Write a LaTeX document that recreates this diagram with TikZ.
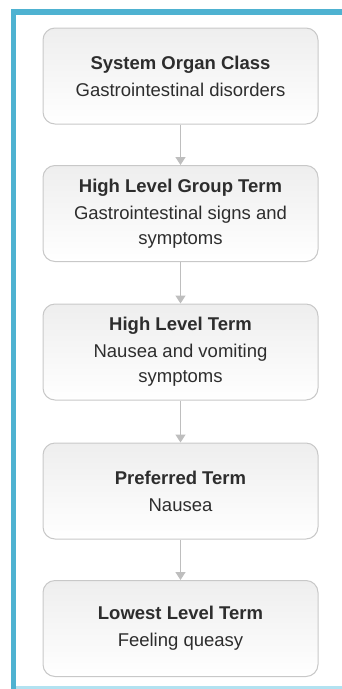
\documentclass[tikz,border=0pt]{standalone}
\usepackage{fontspec}
\setmainfont{Liberation Sans}
\usepackage{xcolor}
\usetikzlibrary{arrows.meta}
\definecolor{FrameBlue}{RGB}{78,178,209}
\definecolor{FrameLight}{RGB}{178,226,241}
\definecolor{BoxLine}{RGB}{200,200,200}
\definecolor{BoxTop}{RGB}{238,238,238}
\definecolor{TextDark}{RGB}{45,45,45}
\definecolor{ArrGray}{RGB}{190,190,190}

\begin{document}
\begin{tikzpicture}[x=1pt, y=-1pt,
          termbox/.style={rectangle, rounded corners=12pt, draw=BoxLine, line width=1pt,
                      top color=BoxTop, bottom color=white, minimum width=275pt,
                      minimum height=96pt, align=center, text=TextDark,
                      font=\fontsize{18.5}{25}\selectfont},
          arr/.style={-{Triangle[width=10pt, length=8pt]}, ArrGray, line width=1.5pt}
        ]
        \useasboundingbox (0,0) rectangle (342,689);
        % frame
        \fill[FrameBlue]  (11,9) rectangle (342,15);
        \fill[FrameBlue]  (11,9) rectangle (16,689);
        \fill[FrameLight] (16,686) rectangle (342,689);

        % hierarchy boxes
        \node[termbox] (soc)  at (180.5, 76)    {\textbf{System Organ Class}\\[2pt]Gastrointestinal disorders};
        \node[termbox] (hlgt) at (180.5, 213.5) {\textbf{High Level Group Term}\\[2pt]Gastrointestinal signs and\\symptoms};
        \node[termbox] (hlt)  at (180.5, 352)   {\textbf{High Level Term}\\[2pt]Nausea and vomiting\\symptoms};
        \node[termbox] (pt)   at (180.5, 491)   {\textbf{Preferred Term}\\[2pt]Nausea};
        \node[termbox] (llt)  at (180.5, 628.5) {\textbf{Lowest Level Term}\\[2pt]Feeling queasy};

        \draw[arr] (soc)  -- (hlgt);
        \draw[arr] (hlgt) -- (hlt);
        \draw[arr] (hlt)  -- (pt);
        \draw[arr] (pt)   -- (llt);
      \end{tikzpicture}
\end{document}
